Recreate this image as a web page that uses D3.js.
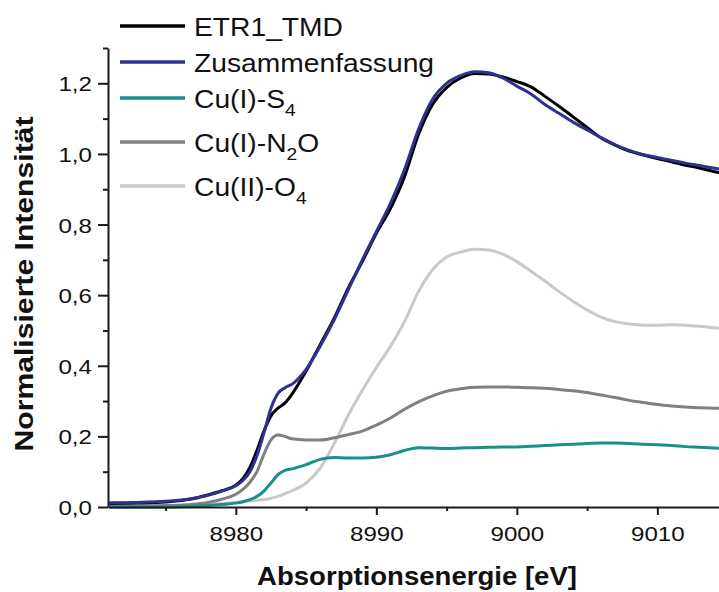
<!DOCTYPE html>
<html lang="de">

<head>
    <meta charset="UTF-8">
    <title>XANES ETR1_TMD</title>
    <script src="https://d3js.org/d3.v7.min.js"></script>
    <style>
        body {
            margin: 0;
            background: #fff;
        }

        svg {
            display: block;
            font-family: "Liberation Sans", Arial, sans-serif;
        }

        .axis path,
        .axis line {
            stroke: #1a1a1a;
            stroke-width: 2px;
        }

        .axis text {
            font-size: 21px;
            fill: #111;
        }

        .legend text {
            font-size: 25px;
            fill: #111;
        }

        .title {
            font-size: 26px;
            font-weight: bold;
            fill: #111;
        }
    </style>
</head>

<body>
    <svg width="719" height="592"></svg>

    <script>
        // energy grid (eV) shared by every series
        const energy = [8971, 8973, 8975, 8977, 8978, 8979, 8980, 8980.5, 8981, 8981.5,
            8982, 8982.5, 8983, 8983.5, 8984, 8985, 8986, 8987, 8988, 8989,
            8990, 8991, 8992, 8993, 8994, 8995, 8996, 8997, 8998, 8999,
            9000, 9001, 9002, 9003, 9004, 9005, 9006, 9007, 9008, 9009,
            9010, 9011, 9012, 9013, 9014, 9015];

        const etr1 = [0.010, 0.011, 0.014, 0.024, 0.034, 0.046, 0.062, 0.080, 0.112, 0.160,
            0.215, 0.258, 0.280, 0.295, 0.320, 0.385, 0.460, 0.535, 0.620, 0.695,
            0.775, 0.845, 0.935, 1.055, 1.140, 1.188, 1.215, 1.228, 1.226, 1.218,
            1.205, 1.190, 1.163, 1.135, 1.105, 1.075, 1.045, 1.025, 1.008, 0.997,
            0.987, 0.978, 0.968, 0.960, 0.950, 0.942];

        const fit = [0.012, 0.013, 0.016, 0.025, 0.033, 0.045, 0.060, 0.075, 0.100, 0.145,
            0.210, 0.280, 0.322, 0.338, 0.348, 0.390, 0.455, 0.530, 0.615, 0.700,
            0.780, 0.860, 0.955, 1.070, 1.155, 1.200, 1.222, 1.233, 1.230, 1.215,
            1.192, 1.170, 1.140, 1.115, 1.090, 1.068, 1.046, 1.026, 1.010, 0.998,
            0.990, 0.982, 0.974, 0.967, 0.960, 0.953];

        const cuS4 = [0.000, 0.000, 0.000, 0.002, 0.004, 0.007, 0.011, 0.015, 0.021, 0.030,
            0.045, 0.068, 0.092, 0.104, 0.108, 0.120, 0.135, 0.140, 0.139, 0.139,
            0.141, 0.148, 0.160, 0.168, 0.167, 0.166, 0.167, 0.168, 0.169, 0.170,
            0.170, 0.172, 0.174, 0.176, 0.178, 0.180, 0.181, 0.181, 0.180, 0.178,
            0.176, 0.174, 0.171, 0.169, 0.167, 0.166];

        const cuN2O = [0.003, 0.003, 0.004, 0.008, 0.013, 0.022, 0.036, 0.050, 0.070, 0.100,
            0.150, 0.190, 0.204, 0.200, 0.193, 0.190, 0.190, 0.196, 0.205, 0.215,
            0.232, 0.252, 0.277, 0.298, 0.315, 0.328, 0.335, 0.339, 0.340, 0.340,
            0.339, 0.338, 0.336, 0.333, 0.329, 0.324, 0.317, 0.310, 0.302, 0.296,
            0.290, 0.286, 0.283, 0.281, 0.280, 0.279];

        const cuO4 = [0.000, 0.000, 0.002, 0.005, 0.008, 0.010, 0.013, 0.015, 0.017, 0.019,
            0.021, 0.025, 0.030, 0.038, 0.046, 0.068, 0.110, 0.180, 0.260, 0.330,
            0.395, 0.455, 0.525, 0.610, 0.672, 0.708, 0.722, 0.730, 0.728, 0.716,
            0.695, 0.668, 0.640, 0.610, 0.583, 0.558, 0.538, 0.525, 0.518, 0.515,
            0.515, 0.516, 0.515, 0.512, 0.508, 0.504];

        // legend: main text, subscript
        const labels = [["ETR1_TMD", ""], ["Zusammenfassung", ""], ["Cu(I)-S", "4"], ["Cu(I)-N", "2"], ["Cu(II)-O", "4"]];
        const labelTail = ["", "", "", "O", ""];
        const colors = ["#000000", "#2e3192", "#17908c", "#808080", "#c9c9c9"];
        const seriesData = [etr1, fit, cuS4, cuN2O, cuO4];

        const xMajor = [8980, 8990, 9000, 9010];
        const xMinor = [8975, 8985, 8995, 9005, 9015];
        const yMajor = [0, 0.2, 0.4, 0.6, 0.8, 1.0, 1.2];
        const yMinor = [0.1, 0.3, 0.5, 0.7, 0.9, 1.1, 1.3];

        const svg = d3.select("svg");
        const plotLeft = 108, plotTop = 48, plotBottom = 507;

        const x = d3.scaleLinear().domain([8970.9, 9015]).range([plotLeft, plotLeft + 44.1 * 14.05]);
        const y = d3.scaleLinear().domain([0, 1.3]).range([plotBottom, plotTop]);

        const fmt = d => d3.format(".1f")(d).replace(".", ",");

        // curves: components first, then measurement and fit on top
        const line = d3.line()
            .x((d, i) => x(energy[i]))
            .y(d => y(d))
            .curve(d3.curveMonotoneX);

        const drawOrder = [4, 3, 2, 0, 1];
        svg.append("g")
            .selectAll("path")
            .data(drawOrder)
            .join("path")
            .attr("d", k => line(seriesData[k]))
            .attr("fill", "none")
            .attr("stroke", k => colors[k])
            .attr("stroke-width", 3)
            .attr("stroke-linejoin", "round");

        // axes
        const gx = svg.append("g").attr("class", "axis").attr("transform", `translate(0,${plotBottom})`);
        gx.call(d3.axisBottom(x).tickValues(xMinor).tickSize(4).tickSizeOuter(0).tickFormat(""));
        gx.append("g").call(d3.axisBottom(x).tickValues(xMajor).tickSize(8).tickSizeOuter(0).tickFormat(d3.format("d")))
            .call(g => g.select(".domain").remove());
        gx.selectAll("text")
            .attr("dy", null)
            .attr("y", 0)
            .attr("transform", "translate(0,34) scale(1.15,1)")
            .attr("font-size", 21)
            .attr("font-family", "Liberation Sans, Arial, sans-serif");

        const gy = svg.append("g").attr("class", "axis").attr("transform", `translate(${plotLeft},0)`);
        gy.call(d3.axisLeft(y).tickValues(yMinor).tickSize(5).tickSizeOuter(0).tickFormat(""));
        gy.append("g").call(d3.axisLeft(y).tickValues(yMajor).tickSize(10).tickFormat(fmt))
            .call(g => g.select(".domain").remove());
        gy.selectAll("text")
            .attr("x", 0)
            .attr("dy", "0.36em")
            .attr("transform", "translate(-16,0) scale(1.15,1)")
            .attr("font-size", 21)
            .attr("font-family", "Liberation Sans, Arial, sans-serif");

        // axis titles
        svg.append("text")
            .attr("class", "title")
            .attr("text-anchor", "middle")
            .attr("transform", "translate(417,585) scale(1.06,1)")
            .text("Absorptionsenergie [eV]");

        svg.append("text")
            .attr("class", "title")
            .attr("text-anchor", "middle")
            .attr("transform", "translate(33,284) rotate(-90) scale(1.16,1)")
            .text("Normalisierte Intensität");

        // legend
        const rowY = [26, 62, 98, 142, 186];
        const legend = svg.append("g").attr("class", "legend");
        labels.forEach((lab, i) => {
            legend.append("line")
                .attr("x1", 120).attr("x2", 185)
                .attr("y1", rowY[i]).attr("y2", rowY[i])
                .attr("stroke", colors[i])
                .attr("stroke-width", 3.5);
            const t = legend.append("text")
                .attr("transform", `translate(194,${rowY[i] + 10}) scale(1.13,1)`);
            t.append("tspan").text(lab[0]);
            if (lab[1]) {
                t.append("tspan").attr("font-size", 17).attr("dy", 8).text(lab[1]);
            }
            if (labelTail[i]) {
                t.append("tspan").attr("dy", -8).text(labelTail[i]);
            }
        });
    </script>
</body>

</html>
